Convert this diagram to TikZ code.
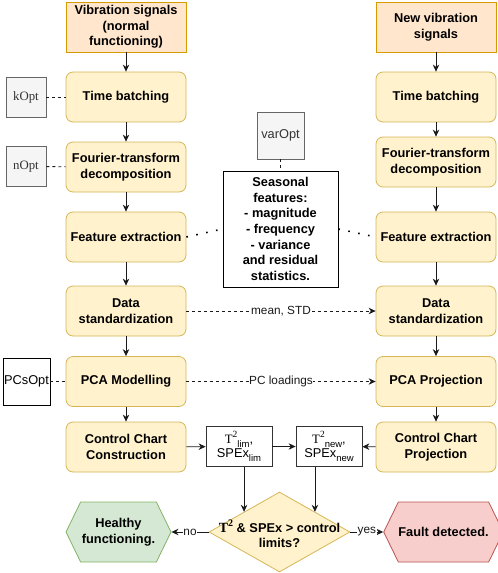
\documentclass[tikz,border=0pt]{standalone}
\usepackage{fontspec}
\setmainfont{Liberation Sans}
\newfontfamily\serifm{Liberation Serif}
\usetikzlibrary{shapes.geometric,shapes.symbols,arrows.meta,calc}
\definecolor{orfill}{HTML}{FFE6CC}
\definecolor{orline}{HTML}{D79B00}
\definecolor{yfill}{HTML}{FFF2CC}
\definecolor{yline}{HTML}{D6B656}
\definecolor{gfill}{HTML}{D5E8D4}
\definecolor{gline}{HTML}{82B366}
\definecolor{rfill}{HTML}{F8CECC}
\definecolor{rline}{HTML}{B85450}
\definecolor{optfill}{HTML}{F5F5F5}
\definecolor{optline}{HTML}{666666}
\definecolor{opttext}{HTML}{333333}
\definecolor{arrcol}{HTML}{1A1A1A}
\tikzset{
  bfont/.style={font=\fontsize{12.8}{15.6}\selectfont\bfseries},
  stepbox/.style={bfont, rounded corners=7pt, draw=yline, fill=yfill, line width=0.8pt,
    minimum width=120pt, minimum height=50pt, align=center, inner sep=0pt},
  srcbox/.style={bfont, draw=orline, fill=orfill, line width=0.8pt,
    minimum width=120pt, minimum height=50pt, align=center, inner sep=0pt},
  optbox/.style={draw=optline, fill=optfill, text=opttext, line width=0.8pt,
    minimum width=40pt, minimum height=40pt, inner sep=0pt},
  limbox/.style={draw=black!80, fill=white, line width=0.8pt, align=center,
    minimum width=66pt, minimum height=40pt, inner sep=0pt, font=\fontsize{12.8}{15}\selectfont},
  arr/.style={draw=arrcol, line width=0.8pt, -{Stealth[length=7pt,width=6.5pt]}},
  dashln/.style={draw=arrcol, line width=0.8pt, dash pattern=on 3pt off 3pt},
  dotln/.style={draw=black, line width=1.6pt, dash pattern=on 1.6pt off 8.5pt},
  lbl/.style={fill=white, inner sep=0.5pt, font=\fontsize{11.8}{13}\selectfont, text=arrcol},
}
\begin{document}
\begin{tikzpicture}[x=1pt, y=-1pt]
\useasboundingbox (0,0) rectangle (498,573);
% left column
\node[srcbox] (vib1) at (126,27) {Vibration signals\\(normal\\functioning)};
\node[stepbox] (tb1) at (126,97) {Time batching};
\node[stepbox] (ft1) at (126,167) {Fourier-transform\\decomposition};
\node[stepbox] (fe1) at (126,237) {Feature extraction};
\node[stepbox] (ds1) at (126,311) {Data\\standardization};
\node[stepbox] (pca1) at (126,381.5) {PCA Modelling};
\node[stepbox] (cc1) at (126,447) {Control Chart\\Construction};
% right column
\node[srcbox] (vib2) at (436,27) {New vibration\\signals};
\node[stepbox] (tb2) at (436,97) {Time batching};
\node[stepbox] (ft2) at (436,162) {Fourier-transform\\decomposition};
\node[stepbox] (fe2) at (436,237) {Feature extraction};
\node[stepbox] (ds2) at (436,311) {Data\\standardization};
\node[stepbox] (pca2) at (436,381.5) {PCA Projection};
\node[stepbox] (cc2) at (436,447) {Control Chart\\Projection};
% option boxes
\node[optbox, font=\fontsize{12.8}{14}\serifm] (kopt) at (26,97) {kOpt};
\node[optbox, font=\fontsize{12.8}{14}\serifm] (nopt) at (26,166.5) {nOpt};
\node[optbox, minimum width=47pt, minimum height=47pt, font=\fontsize{12.8}{14}\selectfont] (varopt) at (280.5,135.5) {varOpt};
\node[draw=black, fill=white, line width=0.8pt, minimum width=47pt, minimum height=47pt, inner sep=0pt,
  font=\fontsize{12.8}{14}\selectfont] (pcsopt) at (26.5,381.5) {PCsOpt};
% seasonal features
\node[draw=black, fill=white, line width=0.8pt, minimum width=115pt, minimum height=116pt,
  align=center, inner sep=0pt, bfont] (seas) at (280.5,229)
  {Seasonal\\features:\\- magnitude\\- frequency\\- variance\\and residual\\statistics.};
% limit boxes
\node[limbox] (tlim) at (239,446.5)
  {{\serifm T}\raisebox{0.9ex}{\fontsize{9.5}{9}\serifm 2}\raisebox{-0.5ex}{\fontsize{9.5}{9}\selectfont lim},\\[-1pt]
   SPEx\raisebox{-0.6ex}{\fontsize{9.5}{9}\selectfont lim}};
\node[limbox] (tnew) at (329,446.5)
  {{\serifm T}\raisebox{0.9ex}{\fontsize{9.5}{9}\serifm 2}\raisebox{-0.5ex}{\fontsize{9.5}{9}\selectfont new},\\[-1pt]
   SPEx\raisebox{-0.6ex}{\fontsize{9.5}{9}\selectfont new}};
% decision
\node[diamond, draw=yline, fill=yfill, line width=0.8pt, minimum width=141pt, minimum height=80pt,
  inner sep=0pt] (dec) at (279.5,532) {};
\node[bfont, align=center, inner sep=0pt] (dectxt) at (279.5,534)
  {{\serifm\fontsize{14}{15}\selectfont T\raisebox{0.8ex}{\fontsize{10}{9}\selectfont 2}} \& SPEx > control\\limits?};
\node[signal, signal to=west and east, signal pointer angle=128, draw=gline, fill=gfill, line width=0.8pt,
  minimum width=105pt, minimum height=60pt, inner sep=0pt, align=center, bfont] (healthy) at (118.5,532)
  {Healthy\\functioning.};
\node[signal, signal to=west and east, signal pointer angle=128, draw=rline, fill=rfill, line width=0.8pt,
  minimum width=107pt, minimum height=60pt, inner sep=0pt, align=center, bfont] (fault) at (443.5,532)
  {Fault detected.};
% vertical arrows
\foreach \a/\b in {vib1/tb1,tb1/ft1,ft1/fe1,fe1/ds1,ds1/pca1,pca1/cc1,vib2/tb2,tb2/ft2,ft2/fe2,fe2/ds2,ds2/pca2,pca2/cc2}
  \draw[arr] (\a) -- (\b);
% option connectors
\draw[dashln] (kopt) -- (tb1);
\draw[dashln] (nopt) -- (ft1);
\draw[dashln] (pcsopt) -- (pca1);
\draw[dashln] (varopt) -- (seas);
\draw[dotln] (fe1.east) -- (seas.west);
\draw[dotln] (seas.east) -- (fe2.west);
% cross arrows
\draw[arr, dash pattern=on 3pt off 3pt] (ds1) -- node[lbl] {mean, STD} (ds2);
\draw[arr, dash pattern=on 3pt off 3pt] (pca1) -- node[lbl] {PC loadings} (pca2);
\draw[arr] (cc1) -- (tlim);
\draw[arr] (tlim) -- (tnew);
\draw[arr] (cc2) -- (tnew);
\coordinate (dl) at ($(dec.west)!0.5!(dec.north)$);
\coordinate (dr) at ($(dec.north)!0.5!(dec.east)$);
\draw[arr] (tlim.south -| dl) -- (dl);
\draw[arr] (tnew.south -| dr) -- (dr);
\draw[arr] (dec.west) -- node[lbl] {no} (healthy.east);
\draw[arr] (dec.east) -- node[lbl] {yes} (fault.west);
\end{tikzpicture}
\end{document}
